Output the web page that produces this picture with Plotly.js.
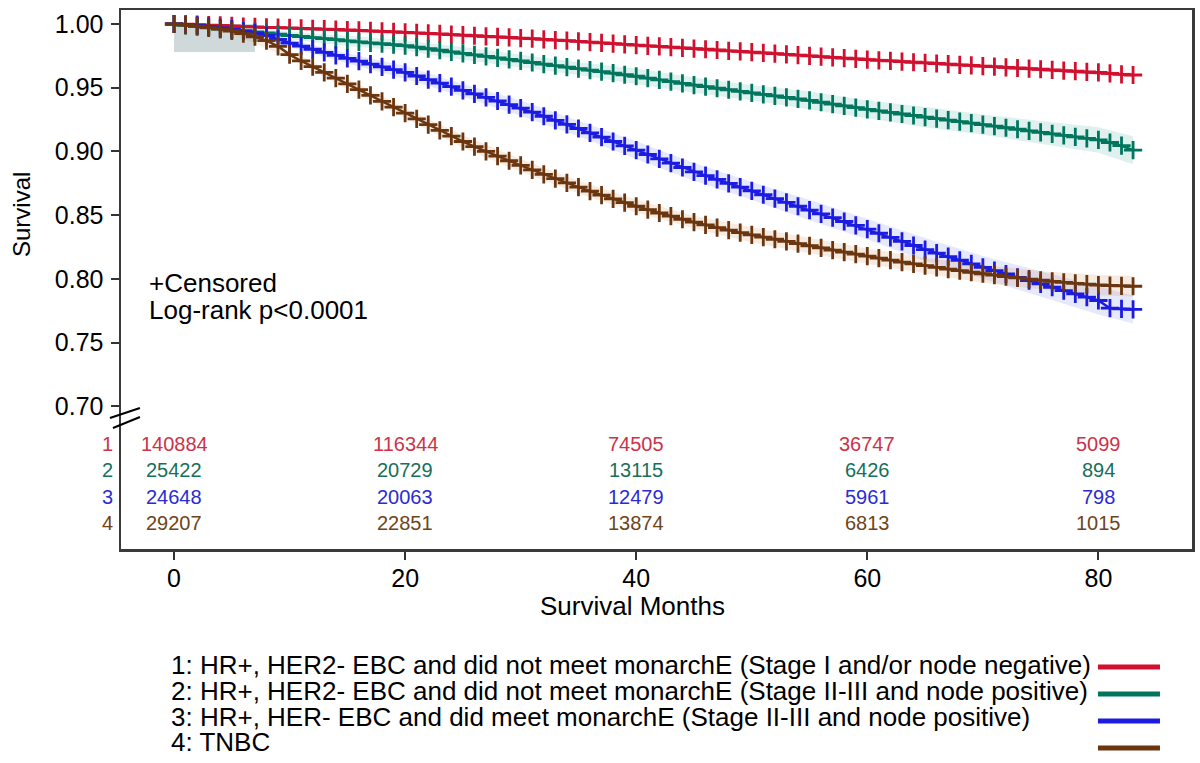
<!DOCTYPE html>
<html>
<head>
<meta charset="utf-8">
<script src="https://cdn.plot.ly/plotly-3.0.1.min.js"></script>
<style>html,body{margin:0;padding:0;background:#fff;}#chart{width:1200px;height:763px;}</style>
</head>
<body>
<div id="chart"></div>
<script>
// ---------- DATA ----------
const months = [0,1,2,3,4,5,6,7,8,9,10,11,12,13,14,15,16,17,18,19,20,21,22,23,24,25,26,27,28,29,30,31,32,33,34,35,36,37,38,39,40,41,42,43,44,45,46,47,48,49,50,51,52,53,54,55,56,57,58,59,60,61,62,63,64,65,66,67,68,69,70,71,72,73,74,75,76,77,78,79,80,81,82,83];

const survRed = [1.000,0.9998,0.9995,0.9992,0.999,0.9985,0.998,0.9977,0.9974,0.9972,
  0.997,0.9966,0.9963,0.996,0.9957,0.9953,0.995,0.9946,0.9942,0.9938,
  0.9935,0.993,0.9926,0.9922,0.9917,0.9913,0.9908,0.9903,0.9899,0.9895,
  0.989,0.9885,0.988,0.9874,0.9869,0.9863,0.9858,0.9852,0.9846,0.984,
  0.9835,0.9829,0.9824,0.9818,0.9812,0.9807,0.9802,0.9796,0.979,0.9785,
  0.978,0.9774,0.9768,0.9762,0.9756,0.975,0.9744,0.9738,0.9732,0.9726,
  0.972,0.9715,0.971,0.9705,0.97,0.9695,0.969,0.9685,0.968,0.9675,
  0.967,0.9665,0.966,0.9655,0.965,0.9645,0.964,0.9635,0.963,0.9625,
  0.962,0.9612,0.9605,0.960];

const survTeal = [1.000,0.999,0.998,0.997,0.996,0.9953,0.9945,0.9938,0.993,0.992,
  0.991,0.9902,0.9893,0.9885,0.9877,0.9868,0.986,0.9852,0.9845,0.9838,
  0.983,0.9818,0.9806,0.9794,0.9782,0.977,0.9758,0.9746,0.9734,0.9722,
  0.971,0.9698,0.9686,0.9674,0.9662,0.965,0.9638,0.9626,0.9614,0.9602,
  0.959,0.9576,0.9562,0.9548,0.9534,0.952,0.9508,0.9496,0.9484,0.9472,
  0.946,0.9448,0.9436,0.9424,0.9412,0.940,0.9386,0.9372,0.9358,0.9344,
  0.933,0.9318,0.9306,0.9294,0.9282,0.927,0.9258,0.9246,0.9234,0.9222,
  0.921,0.9198,0.9186,0.9174,0.9162,0.915,0.9138,0.9126,0.9114,0.9102,
  0.909,0.907,0.9045,0.901];

const survBlue = [1.000,0.9995,0.999,0.998,0.997,0.996,0.9945,0.993,0.991,0.988,
  0.985,0.9826,0.9802,0.9778,0.9754,0.973,0.9708,0.9686,0.9664,0.9642,
  0.962,0.9592,0.9564,0.9536,0.9508,0.948,0.9452,0.9424,0.9396,0.9368,
  0.934,0.9308,0.9276,0.9244,0.9212,0.918,0.9146,0.9112,0.9078,0.9044,
  0.901,0.8976,0.8942,0.8908,0.8874,0.884,0.881,0.878,0.875,0.872,
  0.869,0.866,0.863,0.860,0.857,0.854,0.851,0.848,0.845,0.842,
  0.839,0.8358,0.8326,0.8294,0.8262,0.823,0.8202,0.8174,0.8146,0.8118,
  0.809,0.8064,0.8038,0.8012,0.7986,0.796,0.7934,0.7908,0.7882,0.7856,
  0.783,0.777,0.7765,0.776];

const survBrown = [1.000,0.9992,0.9983,0.9972,0.996,0.9945,0.9925,0.990,0.987,0.9825,
  0.976,0.971,0.9665,0.962,0.9575,0.953,0.9485,0.944,0.9393,0.9347,
  0.930,0.9255,0.921,0.9165,0.912,0.9078,0.9038,0.900,0.8963,0.8927,
  0.889,0.8855,0.882,0.8786,0.8753,0.872,0.8688,0.8657,0.8627,0.8598,
  0.857,0.8543,0.8517,0.8492,0.8468,0.8445,0.8423,0.8402,0.8382,0.8363,
  0.8345,0.8328,0.8311,0.8294,0.8277,0.826,0.8243,0.8226,0.821,0.8194,
  0.8178,0.8162,0.8147,0.8132,0.8118,0.8104,0.809,0.8077,0.8064,0.8052,
  0.804,0.8029,0.8018,0.8008,0.7998,0.7989,0.798,0.7972,0.7965,0.7958,
  0.7952,0.7948,0.7945,0.7942];

// confidence band half-widths, read at these months
const bandMonths = [0,5,10,15,20,25,30,35,40,45,50,55,60,65,70,75,80,83];
const ciRed   = [0.001,0.001,0.001,0.0012,0.0012,0.0013,0.0013,0.0014,0.0014,0.0015,0.0015,0.0016,0.0016,0.0017,0.0017,0.0018,0.0019,0.002];
const ciTeal  = [0.001,0.002,0.003,0.004,0.004,0.005,0.005,0.005,0.006,0.006,0.006,0.007,0.007,0.008,0.008,0.009,0.010,0.011];
const ciBlue  = [0.001,0.002,0.003,0.004,0.005,0.005,0.006,0.006,0.007,0.007,0.007,0.008,0.008,0.009,0.009,0.010,0.011,0.011];
const ciBrown = [0.001,0.002,0.003,0.004,0.004,0.005,0.005,0.005,0.005,0.005,0.006,0.006,0.006,0.006,0.007,0.007,0.008,0.008];
// early overlapping band
const earlyBandMonths = [0,7];
const earlyBandLow = [0.978,0.978];
const earlyBandHigh = [1.0,1.0];

// numbers at risk
const riskMonths = [0,20,40,60,80];
const atRisk1 = [140884,116344,74505,36747,5099];
const atRisk2 = [25422,20729,13115,6426,894];
const atRisk3 = [24648,20063,12479,5961,798];
const atRisk4 = [29207,22851,13874,6813,1015];

const yTicks = [0.70,0.75,0.80,0.85,0.90,0.95,1.00];
const xTicks = [0,20,40,60,80];

const groupLabels = [
  "1: HR+, HER2- EBC and did not meet monarchE (Stage I and/or node negative)",
  "2: HR+, HER2- EBC and did not meet monarchE (Stage II-III and node positive)",
  "3: HR+, HER- EBC and did meet monarchE (Stage II-III and node positive)",
  "4: TNBC"
];

// ---------- STYLE ----------
const FONT = "Liberation Sans, Arial, Helvetica, sans-serif";
const lineColors = ["#d0102e","#00765f","#1c1ce0","#6b360f"];
const textColors = ["#cc3348","#16705c","#2b2bd4","#6e4518"];
const bandColors = ["rgba(220,40,60,0.10)","rgba(0,150,130,0.13)","rgba(60,80,230,0.13)","rgba(200,130,70,0.16)"];

const series = [survRed, survTeal, survBlue, survBrown];
const cis = [ciRed, ciTeal, ciBlue, ciBrown];
const risks = [atRisk1, atRisk2, atRisk3, atRisk4];

const traces = [];
// early band
traces.push({x: earlyBandMonths, y: earlyBandHigh, mode:'lines', line:{width:0}, hoverinfo:'skip', showlegend:false});
traces.push({x: earlyBandMonths, y: earlyBandLow, mode:'lines', line:{width:0}, fill:'tonexty', fillcolor:'rgba(160,180,182,0.5)', hoverinfo:'skip', showlegend:false});
// CI bands
series.forEach((s, i) => {
  const up = bandMonths.map((m, k) => s[months.indexOf(m)] + cis[i][k]);
  const lo = bandMonths.map((m, k) => s[months.indexOf(m)] - cis[i][k]);
  traces.push({x: bandMonths, y: up, mode:'lines', line:{width:0}, hoverinfo:'skip', showlegend:false});
  traces.push({x: bandMonths, y: lo, mode:'lines', line:{width:0}, fill:'tonexty', fillcolor: bandColors[i], hoverinfo:'skip', showlegend:false});
});
// curves with censor marks
series.forEach((s, i) => {
  traces.push({
    x: months, y: s, mode:'lines+markers', showlegend:false,
    line:{color: lineColors[i], width:2.5},
    marker:{symbol:'cross-thin', size:13, color: lineColors[i], line:{color: lineColors[i], width:2.8}}
  });
});

const rowY = [0.1948, 0.1466, 0.0965, 0.0482];
const annotations = [];
risks.forEach((r, i) => {
  r.forEach((v, k) => {
    annotations.push({x: riskMonths[k], xref:'x', y: rowY[i], yref:'paper', text: String(v), showarrow:false,
      xanchor:'center', yanchor:'middle', font:{family:FONT, size:20, color:textColors[i]}});
  });
  annotations.push({x: -0.0122, xref:'paper', y: rowY[i], yref:'paper', text: String(i+1), showarrow:false,
    xanchor:'center', yanchor:'middle', font:{family:FONT, size:20, color:textColors[i]}});
});
annotations.push({x:0.0243, xref:'paper', y:0.4935, yref:'paper', text:'+Censored', showarrow:false, xanchor:'left', yanchor:'middle', font:{family:FONT, size:26, color:'#000'}});
annotations.push({x:0.0243, xref:'paper', y:0.4434, yref:'paper', text:'Log-rank p<0.0001', showarrow:false, xanchor:'left', yanchor:'middle', font:{family:FONT, size:26, color:'#000'}});
annotations.push({x:-0.0924, xref:'paper', y:0.6197, yref:'paper', text:'Survival', textangle:-90, showarrow:false, xanchor:'center', yanchor:'middle', font:{family:FONT, size:24, color:'#000'}});
annotations.push({x:0.4776, xref:'paper', y:-0.1057, yref:'paper', text:'Survival Months', showarrow:false, xanchor:'center', yanchor:'middle', font:{family:FONT, size:26, color:'#000'}});

const legY = [-0.2152, -0.2635, -0.3117, -0.3581];
const legLineY = [-0.2189, -0.269, -0.3191, -0.3692];
groupLabels.forEach((t, i) => {
  annotations.push({x:0.0446, xref:'paper', y:legY[i], yref:'paper', text:t, showarrow:false, xanchor:'left', yanchor:'middle', font:{family:FONT, size:26, color:'#000'}});
});

const shapes = [];
groupLabels.forEach((t, i) => {
  shapes.push({type:'line', xref:'paper', yref:'paper', x0:0.9122, x1:0.9701, y0:legLineY[i], y1:legLineY[i], line:{color:lineColors[i], width:5}});
});
// axis break marks
shapes.push({type:'line', xref:'paper', yref:'paper', x0:-0.0103, y0:0.2430, x1:0.0177, y1:0.2616, line:{color:'#000', width:2}});
shapes.push({type:'line', xref:'paper', yref:'paper', x0:-0.0075, y0:0.2245, x1:0.0177, y1:0.2449, line:{color:'#000', width:2}});

const layout = {
  width:1200, height:763,
  margin:{l:121, r:8, t:10, b:214},
  paper_bgcolor:'#fff', plot_bgcolor:'#fff',
  showlegend:false,
  font:{family:FONT, color:'#000'},
  xaxis:{range:[-4.59, 88.1], tickvals:xTicks, ticks:'outside', ticklen:8, tickwidth:2, tickcolor:'#333',
    showline:true, mirror:true, linecolor:'#3a3a3a', linewidth:2.5, showgrid:false, zeroline:false,
    tickfont:{family:FONT, size:25, color:'#000'}, ticklabelstandoff:-3},
  yaxis:{range:[0.588, 1.011], tickvals:yTicks, tickformat:'.2f', ticks:'outside', ticklen:8, tickwidth:2, tickcolor:'#333',
    showline:true, mirror:true, linecolor:'#3a3a3a', linewidth:2.5, showgrid:false, zeroline:false,
    tickfont:{family:FONT, size:25, color:'#000'}, ticklabelstandoff:2},
  annotations: annotations,
  shapes: shapes
};

Plotly.newPlot('chart', traces, layout, {displayModeBar:false, staticPlot:true});
</script>
</body>
</html>
